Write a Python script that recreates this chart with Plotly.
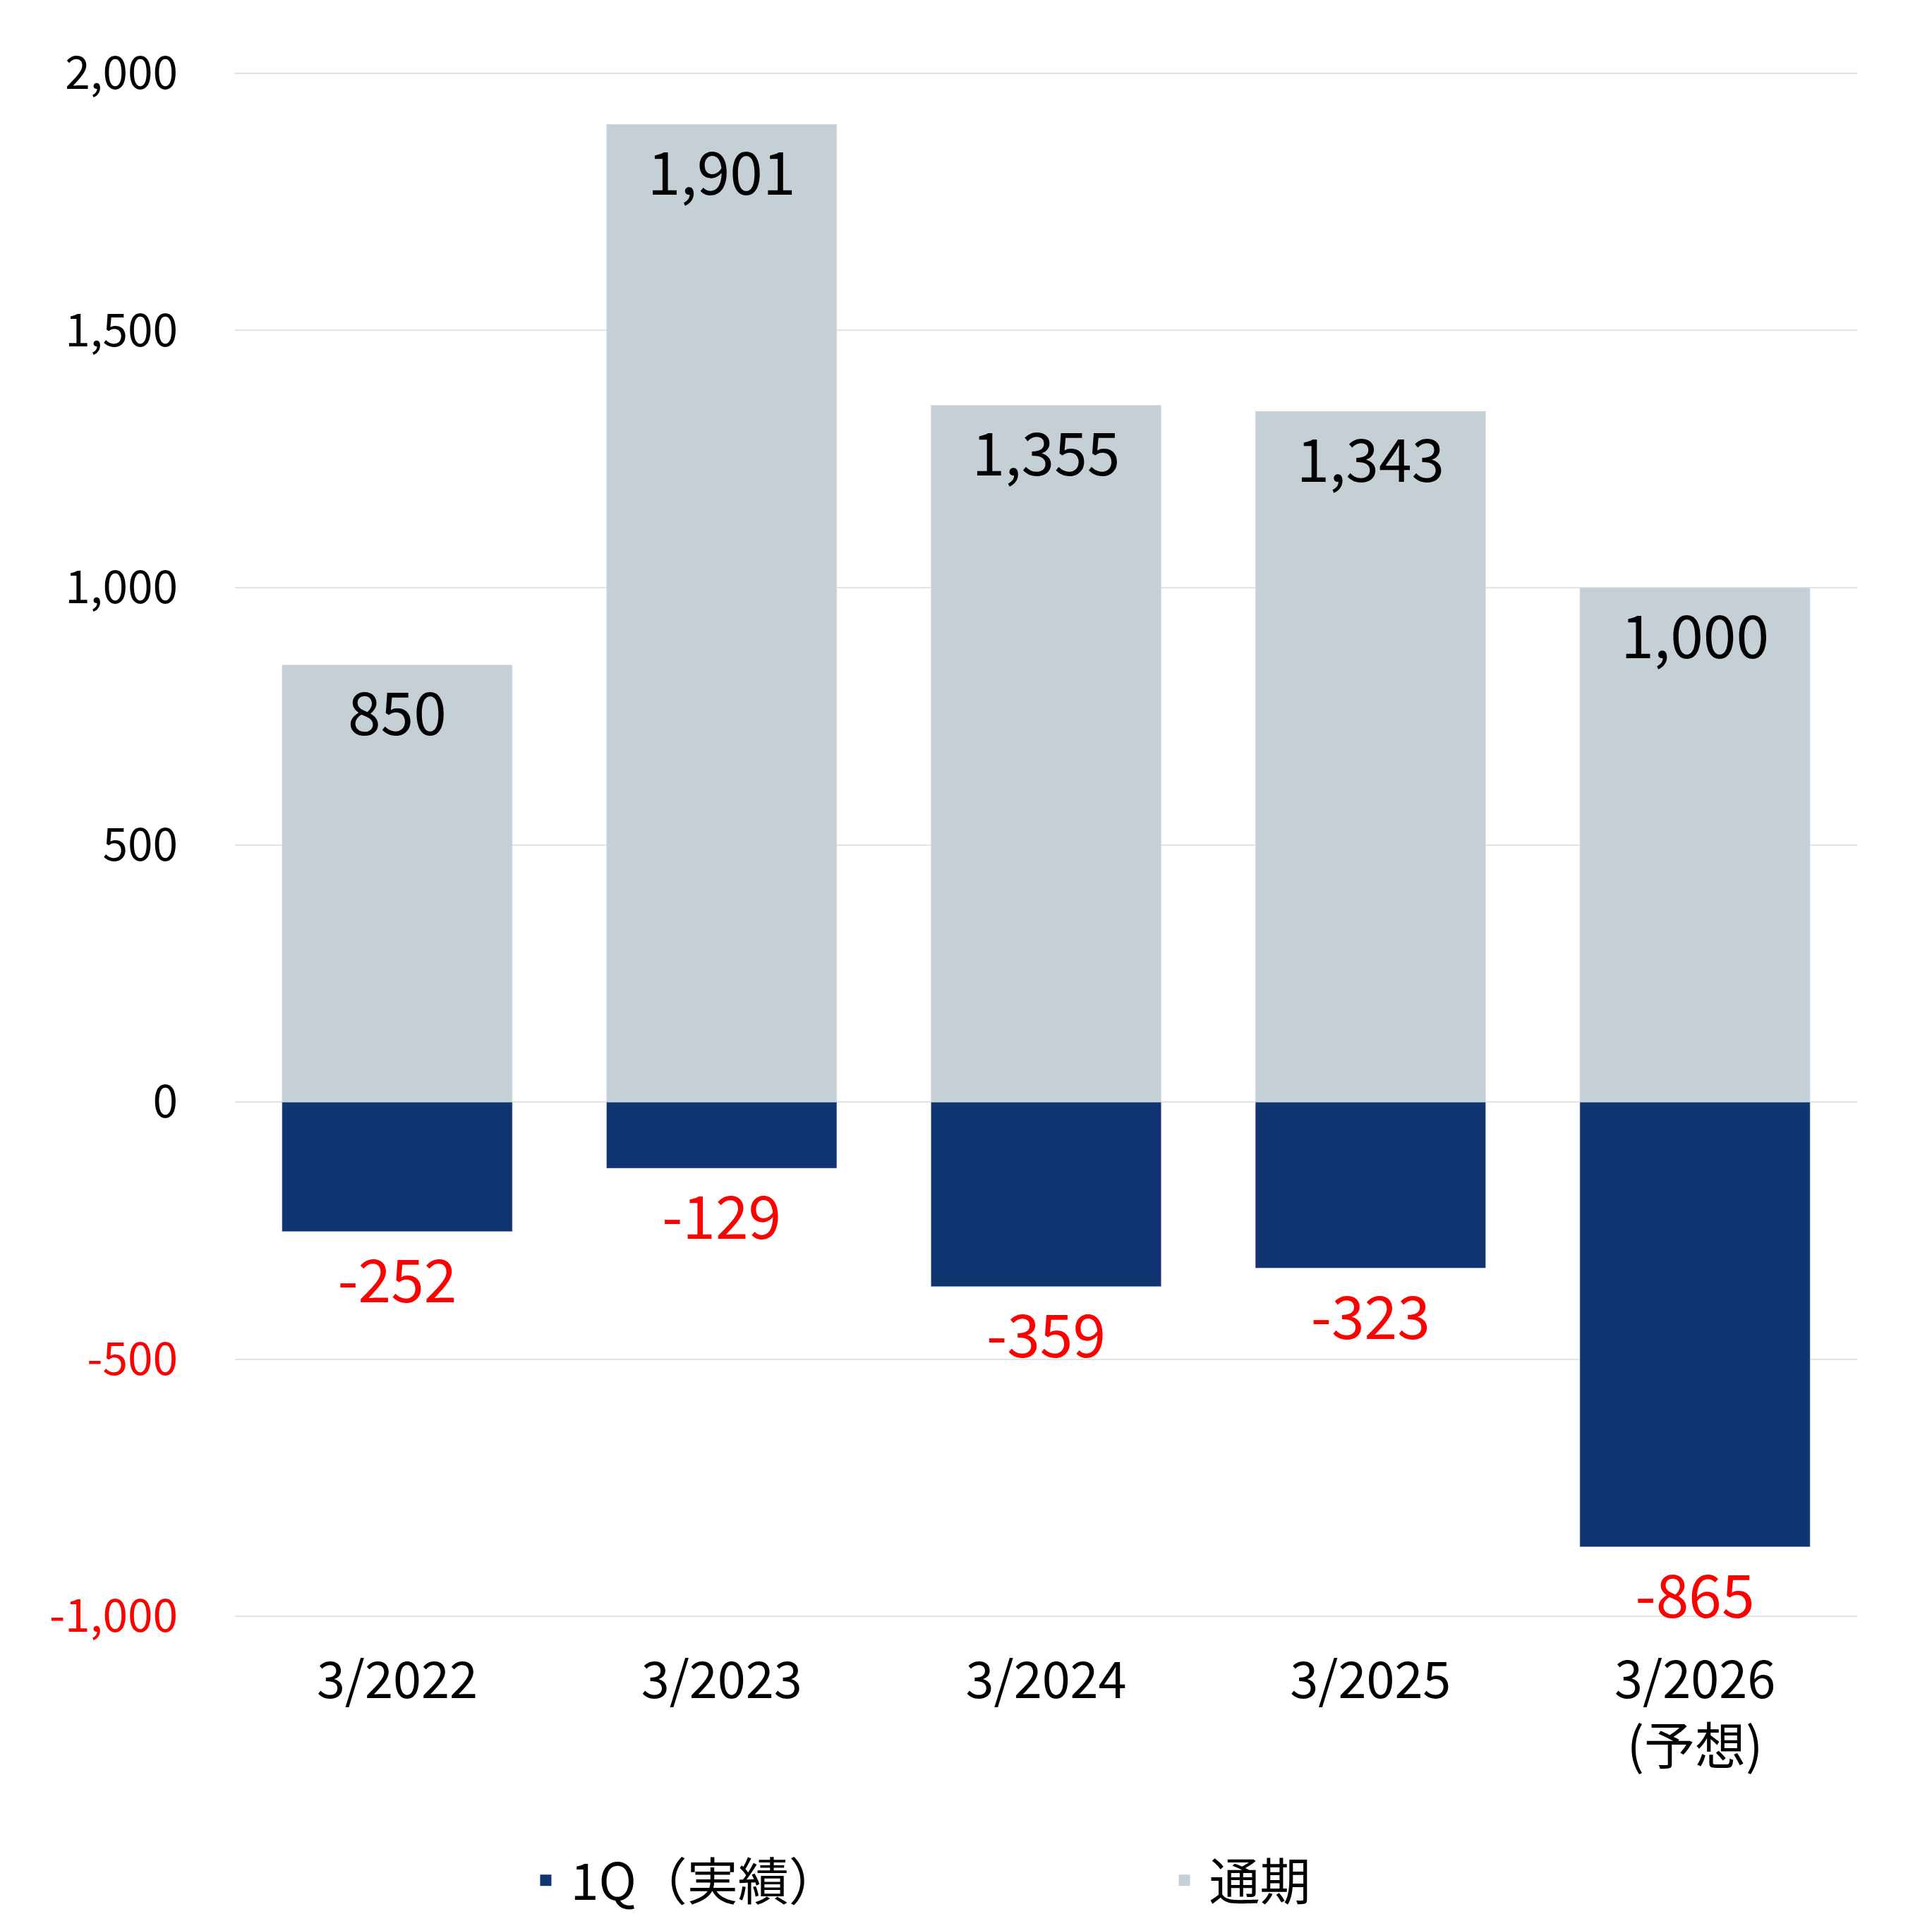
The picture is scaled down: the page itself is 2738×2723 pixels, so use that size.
import plotly.graph_objects as go

categories = ["3/2022", "3/2023", "3/2024", "3/2025", "3/2026<br>(予想)"]
q1_values = [-252, -129, -359, -323, -865]
full_values = [850, 1901, 1355, 1343, 1000]
tick_vals = [-1000, -500, 0, 500, 1000, 1500, 2000]

q1_color = "#103570"
full_color = "#c5d0d6"


def fmt(v):
    return f"{v:,}"


tick_text = [f"<span style='color:#ff0000'>{fmt(v)}</span>" if v < 0 else fmt(v) for v in tick_vals]

fig = go.Figure()
fig.add_trace(go.Bar(
    x=categories, y=q1_values, name="1Q（実績）", showlegend=False,
    marker=dict(color=q1_color),
    text=[fmt(v) for v in q1_values], textposition="outside",
    textfont=dict(color="#ff0000", size=84), cliponaxis=False,
))
fig.add_trace(go.Bar(
    x=categories, y=full_values, name="通期", showlegend=False,
    marker=dict(color=full_color),
    text=[fmt(v) for v in full_values], textposition="inside",
    insidetextanchor="end",
    textfont=dict(color="#000000", size=84),
))
# legend entries with large square swatches
for name, col in [("1Q（実績）", q1_color), ("通期", full_color)]:
    fig.add_trace(go.Scatter(
        x=[None], y=[None], mode="markers", name=name,
        marker=dict(symbol="square", size=46, color=col),
    ))

fig.update_layout(
    width=2738, height=2723,
    barmode="relative", bargap=0.29,
    paper_bgcolor="white", plot_bgcolor="white",
    font=dict(family="Noto Sans CJK JP", size=64, color="#000000"),
    margin=dict(l=325, r=114, t=93, b=433),
    uniformtext=dict(minsize=10, mode="show"),
    yaxis=dict(
        range=[-1004, 2004], tickvals=tick_vals, ticktext=tick_text,
        showgrid=True, gridcolor="#e3e3e3", gridwidth=2,
        zeroline=False, ticks="", ticklen=0, automargin=False,
        ticklabelstandoff=80,
    ),
    xaxis=dict(showline=False, ticks="", automargin=False,
               tickfont=dict(size=72), ticklabelstandoff=40),
    legend=dict(
        orientation="h", x=0.57, xanchor="center", y=-0.145, yanchor="top",
        font=dict(size=72), itemwidth=60, entrywidth=830,
        traceorder="normal",
    ),
)

fig.write_html("out.html")
